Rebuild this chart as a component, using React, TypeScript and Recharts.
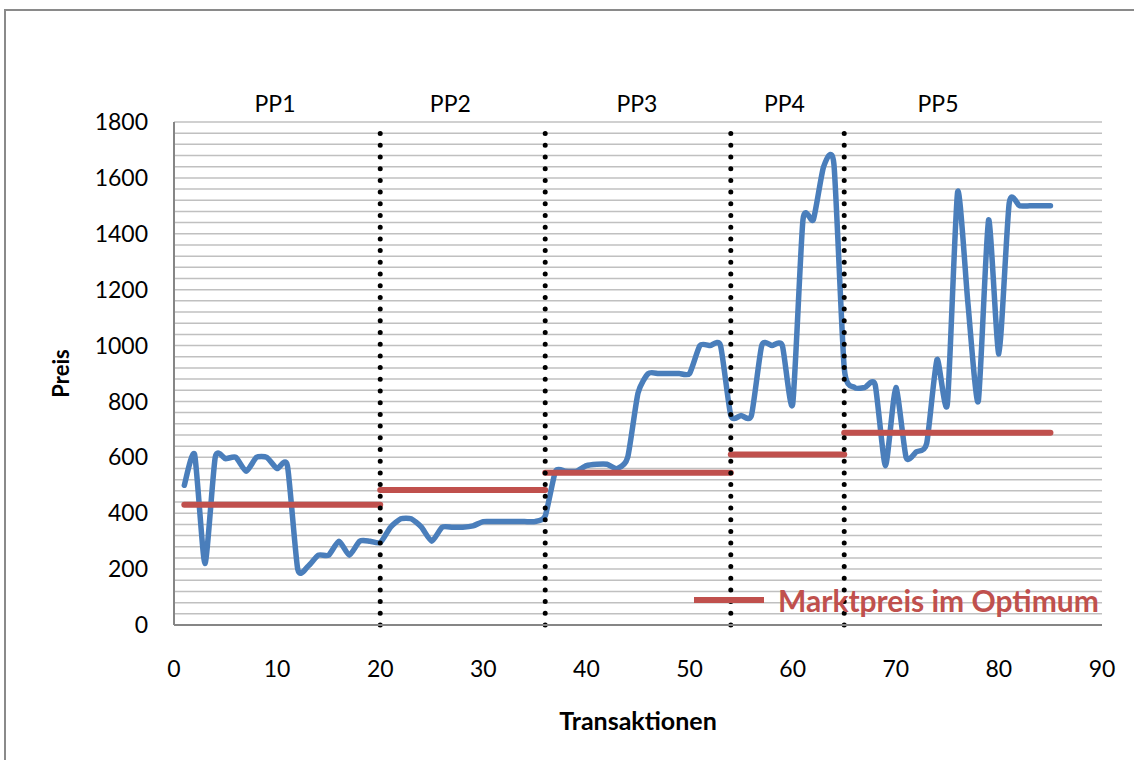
import React from 'react';
import { LineChart, Line, XAxis, YAxis, CartesianGrid, ReferenceLine, Legend } from 'recharts';

// Preis je Transaktion (1..85)
const preis = [
  500, 610, 220, 600, 595, 600, 550, 600, 600, 560, 570, 200, 210, 250, 250, 300, 250, 300, 300, 295,
  350, 380, 380, 350, 300, 350, 350, 350, 355, 370, 370, 370, 370, 370, 370, 390,
  550, 550, 550, 570, 575, 575, 560, 600, 830, 900, 900, 900, 900, 900, 1000, 1000, 1000, 750,
  750, 750, 1000, 1000, 1000, 790, 1450, 1450, 1640, 1650, 920,
  850, 850, 860, 570, 850, 600, 620, 650, 950, 790, 1550, 1150, 800, 1450, 970, 1510, 1500, 1500, 1500, 1500,
];

// Marktpreis im Optimum je Phase
const segStart = [1, 20, 36, 54, 65];
const segEnd = [20, 36, 54, 65, 85];
const marktpreis = [430, 483, 545, 610, 688];

const phaseBounds = [20, 36, 54, 65];
const phaseLabels = ['PP1', 'PP2', 'PP3', 'PP4', 'PP5'];
const phaseLabelX = [9.8, 26.8, 44.9, 59.2, 74.1];

const xTicks = [0, 10, 20, 30, 40, 50, 60, 70, 80, 90];
const yTicks = [0, 200, 400, 600, 800, 1000, 1200, 1400, 1600, 1800];
const gridValues = Array.from({ length: 46 }, (_, i) => i * 40);

const BLUE = '#4a7ebb';
const RED = '#c0504d';
const FONT = 'Lato, "Open Sans", sans-serif';
const SMOOTH = 0.1;

const data = preis.map((p, i) => {
  const t = i + 1;
  const row: Record<string, number> = { t, preis: p };
  segStart.forEach((s, k) => {
    if (t >= s && t <= segEnd[k]) row['m' + k] = marktpreis[k];
  });
  return row;
});

// Excel-artige Glättung (Catmull-Rom als Bezier, etwas straffer)
const excelSmooth = (context: any) => {
  let pts: number[][] = [];
  return {
    areaStart() {},
    areaEnd() {},
    lineStart() {
      pts = [];
    },
    lineEnd() {
      if (!pts.length) return;
      context.moveTo(pts[0][0], pts[0][1]);
      for (let i = 0; i < pts.length - 1; i++) {
        const p0 = pts[i - 1] || pts[i];
        const p1 = pts[i];
        const p2 = pts[i + 1];
        const p3 = pts[i + 2] || p2;
        context.bezierCurveTo(
          p1[0] + (p2[0] - p0[0]) * SMOOTH,
          p1[1] + (p2[1] - p0[1]) * SMOOTH,
          p2[0] - (p3[0] - p1[0]) * SMOOTH,
          p2[1] - (p3[1] - p1[1]) * SMOOTH,
          p2[0],
          p2[1]
        );
      }
    },
    point(x: number, y: number) {
      pts.push([+x, +y]);
    },
  };
};

const gridCoords = ({ yAxis, offset }: any) =>
  gridValues.map((v) =>
    yAxis && typeof yAxis.scale === 'function'
      ? yAxis.scale(v)
      : offset.top + offset.height * (1 - v / 1800)
  );

const LegendBox = () => (
  <div style={{ display: 'flex', alignItems: 'center', fontFamily: FONT }}>
    <svg width={72} height={8}>
      <line x1={0} y1={4} x2={70} y2={4} stroke={RED} strokeWidth={6} />
    </svg>
    <span style={{ color: RED, fontWeight: 700, fontSize: 30, marginLeft: 12, whiteSpace: 'nowrap' }}>
      Marktpreis im Optimum
    </span>
  </div>
);

export default function App() {
  return (
    <div
      style={{
        position: 'fixed',
        left: 0,
        top: 0,
        width: 1134,
        height: 760,
        overflow: 'hidden',
        background: '#fff',
        fontFamily: FONT,
      }}
    >
      <div
        style={{
          position: 'absolute',
          left: 4,
          top: 9,
          width: 1200,
          height: 800,
          border: '2px solid #8a8a8a',
        }}
      />
      <div style={{ position: 'absolute', left: 0, top: 0 }}>
        <LineChart width={1134} height={760} data={data} margin={{ top: 122, right: 32, bottom: 75, left: 74 }}>
          <CartesianGrid
            vertical={false}
            horizontalCoordinatesGenerator={gridCoords}
            stroke="#c0c0c0"
            strokeWidth={1.5}
          />
          <XAxis
            type="number"
            dataKey="t"
            domain={[0, 90]}
            ticks={xTicks}
            height={60}
            axisLine={{ stroke: '#868686', strokeWidth: 2 }}
            tickLine={false}
            tickSize={0}
            tickMargin={36}
            tick={{ fill: '#000', fontSize: 23, fontFamily: FONT }}
            label={{
              content: ({ viewBox }: any) => {
                const vb = viewBox || { x: 174, y: 625, width: 928 };
                return (
                  <text
                    x={vb.x + vb.width / 2}
                    y={vb.y + 95}
                    textAnchor="middle"
                    dominantBaseline="central"
                    fontFamily={FONT}
                    fontWeight={700}
                    fontSize={25}
                    fill="#000"
                  >
                    Transaktionen
                  </text>
                );
              },
            }}
          />
          <YAxis
            type="number"
            domain={[0, 1800]}
            ticks={yTicks}
            width={100}
            axisLine={{ stroke: '#868686', strokeWidth: 2 }}
            tickLine={false}
            tickSize={0}
            tickMargin={26}
            tick={{ fill: '#000', fontSize: 23, fontFamily: FONT }}
            label={{
              content: ({ viewBox }: any) => {
                const vb = viewBox || { x: 74, y: 122, height: 503 };
                const cx = vb.x - 14;
                const cy = vb.y + vb.height / 2;
                return (
                  <text
                    x={cx}
                    y={cy}
                    transform={`rotate(-90, ${cx}, ${cy})`}
                    textAnchor="middle"
                    dominantBaseline="central"
                    fontFamily={FONT}
                    fontWeight={700}
                    fontSize={22}
                    fill="#000"
                  >
                    Preis
                  </text>
                );
              },
            }}
          />
          <Line
            dataKey="preis"
            type={excelSmooth as any}
            stroke={BLUE}
            strokeWidth={5.5}
            strokeLinejoin="round"
            strokeLinecap="round"
            dot={false}
            activeDot={false}
            isAnimationActive={false}
          />
          {marktpreis.map((_, k) => (
            <Line
              key={k}
              dataKey={'m' + k}
              type="linear"
              stroke={RED}
              strokeWidth={6}
              strokeLinecap="round"
              dot={false}
              activeDot={false}
              connectNulls={false}
              isAnimationActive={false}
              legendType="none"
            />
          ))}
          {phaseBounds.map((b) => (
            <ReferenceLine
              key={'b' + b}
              x={b}
              stroke="#000"
              strokeWidth={5}
              strokeLinecap="round"
              strokeDasharray="0 11.7"
            />
          ))}
          {phaseLabels.map((lab, k) => (
            <ReferenceLine
              key={lab}
              x={phaseLabelX[k]}
              stroke="none"
              label={{ value: lab, position: 'top', offset: 10, fill: '#000', fontSize: 23, fontFamily: FONT }}
            />
          ))}
          <Legend
            layout="horizontal"
            verticalAlign="middle"
            align="center"
            content={() => <LegendBox />}
            wrapperStyle={{ position: 'absolute', left: 694, top: 582, width: 'auto', height: 'auto' }}
          />
        </LineChart>
      </div>
    </div>
  );
}
